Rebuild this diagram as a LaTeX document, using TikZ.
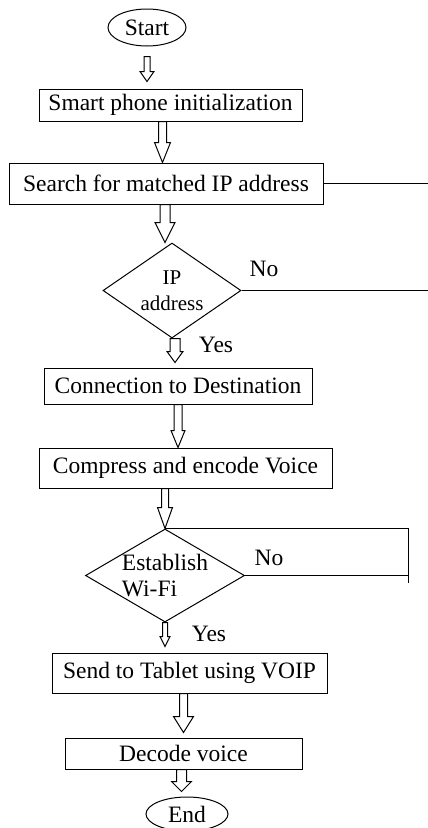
\documentclass[tikz,border=0pt]{standalone}
\usepackage{fontspec}
\setmainfont{Liberation Serif}
\usetikzlibrary{shapes.geometric,calc}

\begin{document}
\begin{tikzpicture}[x=1pt, y=1pt, line width=1pt,
  every node/.style={font=\fontsize{23.5}{26}\selectfont},
  box/.style={shape=rectangle, draw, inner sep=0pt},
  term/.style={shape=ellipse, draw, inner sep=0pt},
  decision/.style={shape=diamond, draw, inner sep=0pt},
  hollow/.style n args={3}{to path={let \p1=(\tikztostart), \p2=(\tikztotarget) in
    (\x1-#1pt,\y1) -- (\x1-#1pt,\y2+#3pt) -- (\x1-#2pt,\y2+#3pt) -- (\x1,\y2)
    -- (\x1+#2pt,\y2+#3pt) -- (\x1+#1pt,\y2+#3pt) -- (\x1+#1pt,\y1) -- cycle}}]
\useasboundingbox (0,0) rectangle (428,-828);

% flow steps
\node at (147,-27.5) [term, minimum width=78pt, minimum height=37pt] (start) {Start};
\node at (170.5,-105) [box, minimum width=263pt, minimum height=32pt] (b1) {Smart phone initialization};
\node at (166,-183.5) [box, minimum width=314pt, minimum height=41pt] (b2) {Search for matched IP address};
\node at (172,-290.5) [decision, aspect=1.45, minimum width=138pt, minimum height=95pt, align=center, font=\fontsize{21}{26}\selectfont] (d1) {IP\\address};
\node at (178,-386) [box, minimum width=268pt, minimum height=36pt] (b3) {Connection to Destination};
\node at (185.5,-468) [box, minimum width=293pt, minimum height=40pt] (b4) {Compress and encode Voice};
\node at (165,-575.5) [decision, aspect=1.71, minimum width=159pt, minimum height=93pt, inner sep=-2pt, align=left] (d2) {Establish\\Wi-Fi};
\node at (189.5,-673) [box, minimum width=275pt, minimum height=40pt] (b5) {Send to Tablet using VOIP};
\node at (183.5,-753.5) [box, minimum width=237pt, minimum height=31pt] (b6) {Decode voice};
\node at (187,-814) [term, minimum width=82pt, minimum height=34pt] (end) {End};

% branch labels
\node at (264,-269) (no1) {No};
\node at (216,-345) (yes1) {Yes};
\node at (269,-558) (no2) {No};
\node at (209,-634) (yes2) {Yes};

\coordinate (edge) at (428,0);
\coordinate (loop) at (408,-583);

\draw [hollow={3}{7}{10}] ([yshift=-10pt]start.south) to ([yshift=7pt]b1.north);
\draw [hollow={4}{8}{20}] ([xshift=-8pt]b1.south) to (b2.north);
\draw [hollow={5}{10}{20}] ([xshift=-1pt]b2.south) to (d1.north);
\draw [hollow={5}{8}{11}] ([xshift=3pt]d1.south) to ([yshift=5pt]b3.north);
\draw [hollow={4}{7}{17}] (b3.south) to (b4.north);
\draw [hollow={3.5}{7.5}{21}] (b4.south -| d2.north) to (d2.north);
\draw [hollow={2.5}{5}{10}] (d2.south) to ([yshift=6pt]b5.north);
\draw [hollow={4}{10}{16}] ([xshift=-6pt]b5.south) to ([yshift=5pt]b6.north);
\draw [hollow={5}{10}{10}] ([xshift=-2pt]b6.south) to ([yshift=5pt]end.north);

\draw (b2.east) -- (b2.east -| edge);
\draw (d1.east) -- (d1.east -| edge);
\draw (d2.north) -- (d2.north -| loop) -- (loop);
\draw (d2.east) -- (d2.east -| loop);
\end{tikzpicture}
\end{document}
